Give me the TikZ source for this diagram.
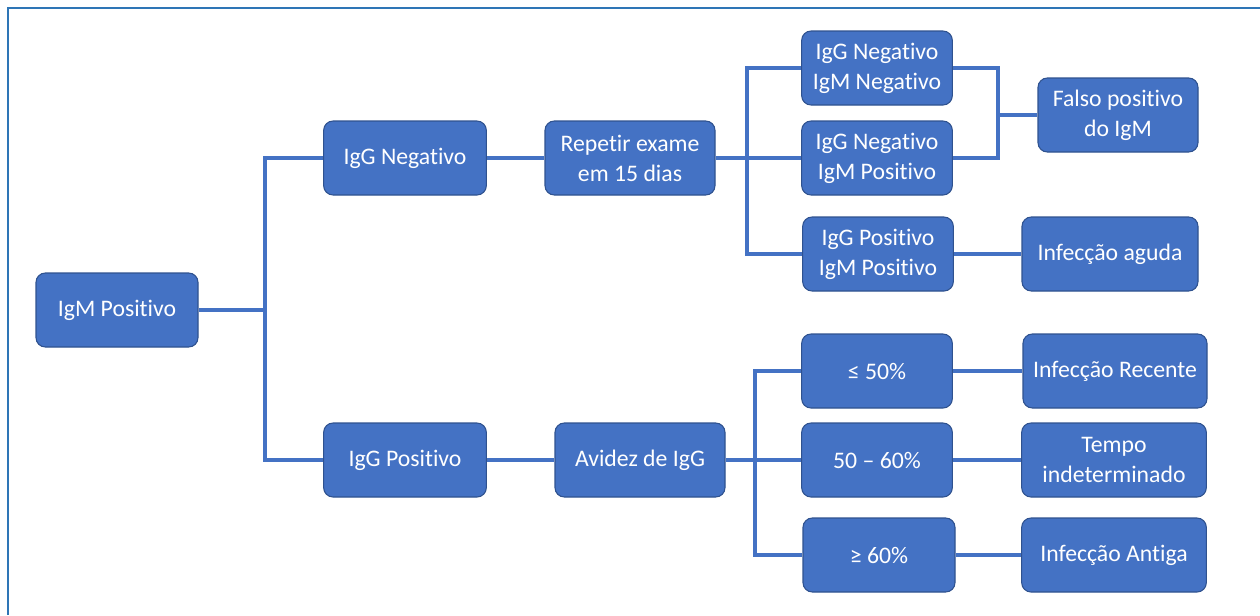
\documentclass[tikz,border=0pt]{standalone}
\usepackage{fontspec}
\setmainfont[Ligatures={NoCommon}]{Carlito}
\usepackage{tikz}
\usepackage{xcolor}
\definecolor{office-blue}{HTML}{4472C4}
\definecolor{office-edge}{HTML}{2F528F}
\definecolor{frame-blue}{HTML}{2E75B6}
\tikzset{
    blue-box/.style = {draw=office-edge, fill=office-blue, line width=0.8pt, rectangle, rounded corners=7pt, text=white, align=center, minimum height=55.5pt, inner sep=2pt, font=\fontsize{17.8}{22.5}\selectfont},
    link/.style = {draw=office-blue, line width=2.6pt},
    frame-line/.style = {draw=frame-blue, line width=1.6pt},
}

\begin{document}
\begin{tikzpicture}[x=0.75pt, y=-0.75pt]
\useasboundingbox (0,0) rectangle (1260,615);
\draw[frame-line] (8,615) -- (8,8) -- (1260,8);

% first level
\node[blue-box, minimum width=121.5pt] (igm) at (117,310) {IgM Positivo};
\node[blue-box, minimum width=122pt] (igg-neg) at (405,158) {IgG Negativo};
\node[blue-box, minimum width=122pt] (igg-pos) at (405,460) {IgG Positivo};
\node[blue-box, minimum width=127.5pt] (repetir) at (630,158) {Repetir exame\\em 15 dias};
\node[blue-box, minimum width=127.5pt] (avidez) at (640,460) {Avidez de IgG};

% after 15 days
\node[blue-box, minimum width=113pt] (neg-neg) at (877,68) {IgG Negativo\\IgM Negativo};
\node[blue-box, minimum width=113pt] (neg-pos) at (877,158) {IgG Negativo\\IgM Positivo};
\node[blue-box, minimum width=113pt] (pos-pos) at (878,254) {IgG Positivo\\IgM Positivo};
\node[blue-box, minimum width=120pt] (falso) at (1118,115) {Falso positivo\\do IgM};
\node[blue-box, minimum width=132pt] (aguda) at (1110,254) {Infecção aguda};

% avidity
\node[blue-box, minimum width=113pt] (le50) at (877,371) {≤ 50\%};
\node[blue-box, minimum width=113pt] (mid) at (877,460) {50 – 60\%};
\node[blue-box, minimum width=114pt] (ge60) at (879,555) {≥ 60\%};
\node[blue-box, minimum width=138pt] (recente) at (1115,371) {Infecção Recente};
\node[blue-box, minimum width=138.5pt] (tempo) at (1114,460) {Tempo\\indeterminado};
\node[blue-box, minimum width=138.5pt] (antiga) at (1114,555) {Infecção Antiga};

\coordinate (split-igm) at (265,310);
\coordinate (split-rep) at (747,158);
\coordinate (join-falso) at (998,115);
\coordinate (split-av) at (755,460);

\draw[link] (igm) -- (split-igm);
\draw[link] (igg-neg.west) -| (split-igm) |- (igg-pos.west);
\draw[link] (igg-neg) -- (repetir);
\draw[link] (igg-pos) -- (avidez);

\draw[link] (repetir) -- (neg-pos);
\draw[link] (neg-neg.west) -| (split-rep) |- (pos-pos.west);
\draw[link] (neg-neg.east) -| (join-falso) |- (neg-pos.east);
\draw[link] (join-falso) -- (falso);
\draw[link] (pos-pos) -- (aguda);

\draw[link] (avidez) -- (mid);
\draw[link] (le50.west) -| (split-av) |- (ge60.west);
\draw[link] (le50) -- (recente);
\draw[link] (mid) -- (tempo);
\draw[link] (ge60) -- (antiga);
\end{tikzpicture}
\end{document}
